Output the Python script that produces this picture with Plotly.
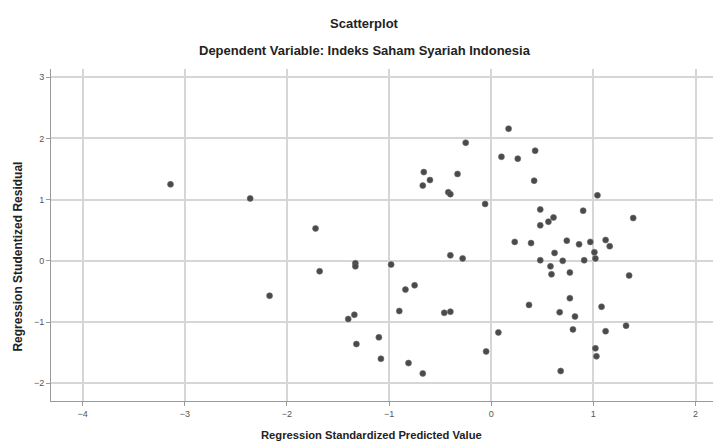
import plotly.graph_objects as go

predicted = [-3.14, -2.36, -1.72, -1.68, -1.33, -1.33, -0.25, -0.66, -0.60, -0.67,
             -0.33, -0.42, -0.40, -0.98, -0.40, -0.28, 0.17, 0.10, 0.26, 0.43,
             0.42, 1.04, -0.06, 0.48, 0.90, 0.61, 0.56, 0.48, 1.39, 0.23,
             0.39, 0.74, 0.86, 0.97, 1.12, 1.16, 1.01, 1.02, 0.62, 0.48,
             0.70, 0.91, 0.58, 0.59, 0.77, 1.35, -2.17, -0.84, -0.75, -0.90,
             -1.40, -1.34, -0.46, -0.40, -1.10, -1.32, -1.08, -0.81, -0.67, 0.77,
             0.37, 1.08, 0.67, 0.82, 1.32, 0.80, 1.12, 0.07, -0.05, 1.02,
             1.03, 0.68]
residual = [1.25, 1.02, 0.53, -0.17, -0.04, -0.09, 1.93, 1.45, 1.32, 1.23,
            1.42, 1.12, 1.09, -0.06, 0.09, 0.04, 2.16, 1.70, 1.67, 1.80,
            1.31, 1.07, 0.93, 0.84, 0.82, 0.71, 0.64, 0.58, 0.70, 0.31,
            0.29, 0.33, 0.27, 0.31, 0.34, 0.24, 0.14, 0.04, 0.13, 0.01,
            0.00, 0.01, -0.09, -0.22, -0.19, -0.24, -0.57, -0.47, -0.40, -0.82,
            -0.95, -0.88, -0.85, -0.83, -1.25, -1.36, -1.60, -1.67, -1.84, -0.61,
            -0.72, -0.75, -0.84, -0.91, -1.06, -1.12, -1.15, -1.17, -1.48, -1.43,
            -1.56, -1.80]

x_ticks = [-4, -3, -2, -1, 0, 1, 2]
y_ticks = [-2, -1, 0, 1, 2, 3]

title_text = "Scatterplot"
subtitle_text = "Dependent Variable: Indeks Saham Syariah Indonesia"
x_title = "Regression Standardized Predicted Value"
y_title = "Regression Studentized Residual"

FONT = "Liberation Sans, Arial, sans-serif"

fig = go.Figure()
fig.add_trace(go.Scatter(
    x=predicted, y=residual, mode="markers",
    marker=dict(size=6, color="#4a4a4a", line=dict(width=0.6, color="#6a6a6a")),
    hoverinfo="x+y", showlegend=False,
))

axis_common = dict(
    showgrid=True, gridcolor="#d6d6d6", gridwidth=1.5,
    zeroline=False, showline=True, linecolor="#9a9a9a", linewidth=1,
    ticks="outside", ticklen=4, tickcolor="#9a9a9a", tickwidth=1,
    tickfont=dict(family=FONT, size=9, color="#555555"),
)

# page body has an 8px margin, so the figure is sized to fit the window
fig.update_layout(
    width=713, height=434,
    margin=dict(l=43, r=2, t=61, b=41),
    paper_bgcolor="white", plot_bgcolor="white",
    font=dict(family=FONT, color="#222222"),
    xaxis=dict(range=[-4.31, 2.23], tickvals=x_ticks, **axis_common),
    yaxis=dict(range=[-2.29, 3.135], tickvals=y_ticks, **axis_common),
    annotations=[
        dict(text="<b>" + title_text + "</b>", xref="paper", yref="paper",
             x=0.47, y=1.136, xanchor="center", yanchor="middle", showarrow=False,
             font=dict(family=FONT, size=13, color="#222222")),
        dict(text="<b>" + subtitle_text + "</b>", xref="paper", yref="paper",
             x=0.47, y=1.057, xanchor="center", yanchor="middle", showarrow=False,
             font=dict(family=FONT, size=13, color="#222222")),
        dict(text="<b>" + x_title + "</b>", xref="paper", yref="paper",
             x=0.4805, y=-0.102, xanchor="center", yanchor="middle", showarrow=False,
             font=dict(family=FONT, size=11.2, color="#222222")),
        dict(text="<b>" + y_title + "</b>", xref="paper", yref="paper",
             x=-0.0494, y=0.435, xanchor="center", yanchor="middle", showarrow=False,
             textangle=-90,
             font=dict(family=FONT, size=12, color="#222222")),
    ],
)

fig.write_html("out.html")
